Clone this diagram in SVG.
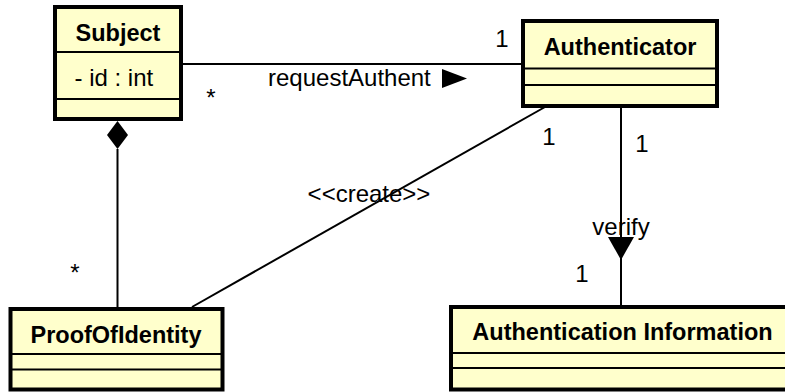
<svg xmlns="http://www.w3.org/2000/svg" width="785" height="392" viewBox="0 0 785 392">
<style>
.box{fill:#ffffcc;stroke:#000;stroke-width:4}
.sep{stroke:#000;stroke-width:2}
.ttl{font-family:"Liberation Sans",Arial,sans-serif;font-weight:bold;font-size:23.5px;text-anchor:middle;fill:#000}
.txt{font-family:"Liberation Sans",Arial,sans-serif;font-size:24px;fill:#000}
.edge{stroke:#000;stroke-width:2;fill:none}
</style>
<rect width="785" height="392" fill="#fff"/>
<g id="connectors">
<line class="edge" x1="183" y1="64" x2="521" y2="64"/>
<polygon points="442,69 467,78.5 442,88" fill="#000"/>
<line class="edge" x1="117.5" y1="149" x2="117.5" y2="307"/>
<polygon points="117.5,121 128,135 117.5,149 107,135" fill="#000"/>
<line class="edge" x1="545" y1="107" x2="192" y2="307"/>
<line class="edge" x1="621" y1="107" x2="621" y2="306"/>
<polygon points="608,237 634,237 621,260" fill="#000"/>
<text class="txt" x="502" y="47" text-anchor="middle">1</text>
<text class="txt" x="211" y="106" text-anchor="middle">*</text>
<text class="txt" x="268" y="86">requestAuthent</text>
<text class="txt" x="75" y="281" text-anchor="middle">*</text>
<text class="txt" x="549" y="145" text-anchor="middle">1</text>
<text class="txt" x="642" y="152" text-anchor="middle">1</text>
<text class="txt" x="369" y="202" text-anchor="middle">&lt;&lt;create&gt;&gt;</text>
<text class="txt" x="621" y="235" text-anchor="middle">verify</text>
<text class="txt" x="582" y="282" text-anchor="middle">1</text>
</g>
<g id="Subject">
<rect class="box" x="55" y="7" width="126" height="112"/>
<line class="sep" x1="55" y1="52" x2="181" y2="52"/>
<line class="sep" x1="55" y1="99" x2="181" y2="99"/>
<text class="ttl" x="118" y="41">Subject</text>
<text class="txt" x="74.5" y="86">- id : int</text>
</g>
<g id="Authenticator">
<rect class="box" x="523" y="21" width="194" height="85"/>
<line class="sep" x1="523" y1="68.5" x2="717" y2="68.5"/>
<line class="sep" x1="523" y1="85" x2="717" y2="85"/>
<text class="ttl" x="620" y="54.5">Authenticator</text>
</g>
<g id="ProofOfIdentity">
<rect class="box" x="10.5" y="309" width="212" height="80.5"/>
<line class="sep" x1="10.5" y1="354" x2="222.5" y2="354"/>
<line class="sep" x1="10.5" y1="369.5" x2="222.5" y2="369.5"/>
<text class="ttl" x="116" y="343">ProofOfIdentity</text>
</g>
<g id="AuthenticationInformation">
<rect class="box" x="451" y="307" width="343" height="82.5"/>
<line class="sep" x1="451" y1="353" x2="794" y2="353"/>
<line class="sep" x1="451" y1="368" x2="794" y2="368"/>
<text class="ttl" x="622.5" y="340">Authentication Information</text>
</g>
</svg>
